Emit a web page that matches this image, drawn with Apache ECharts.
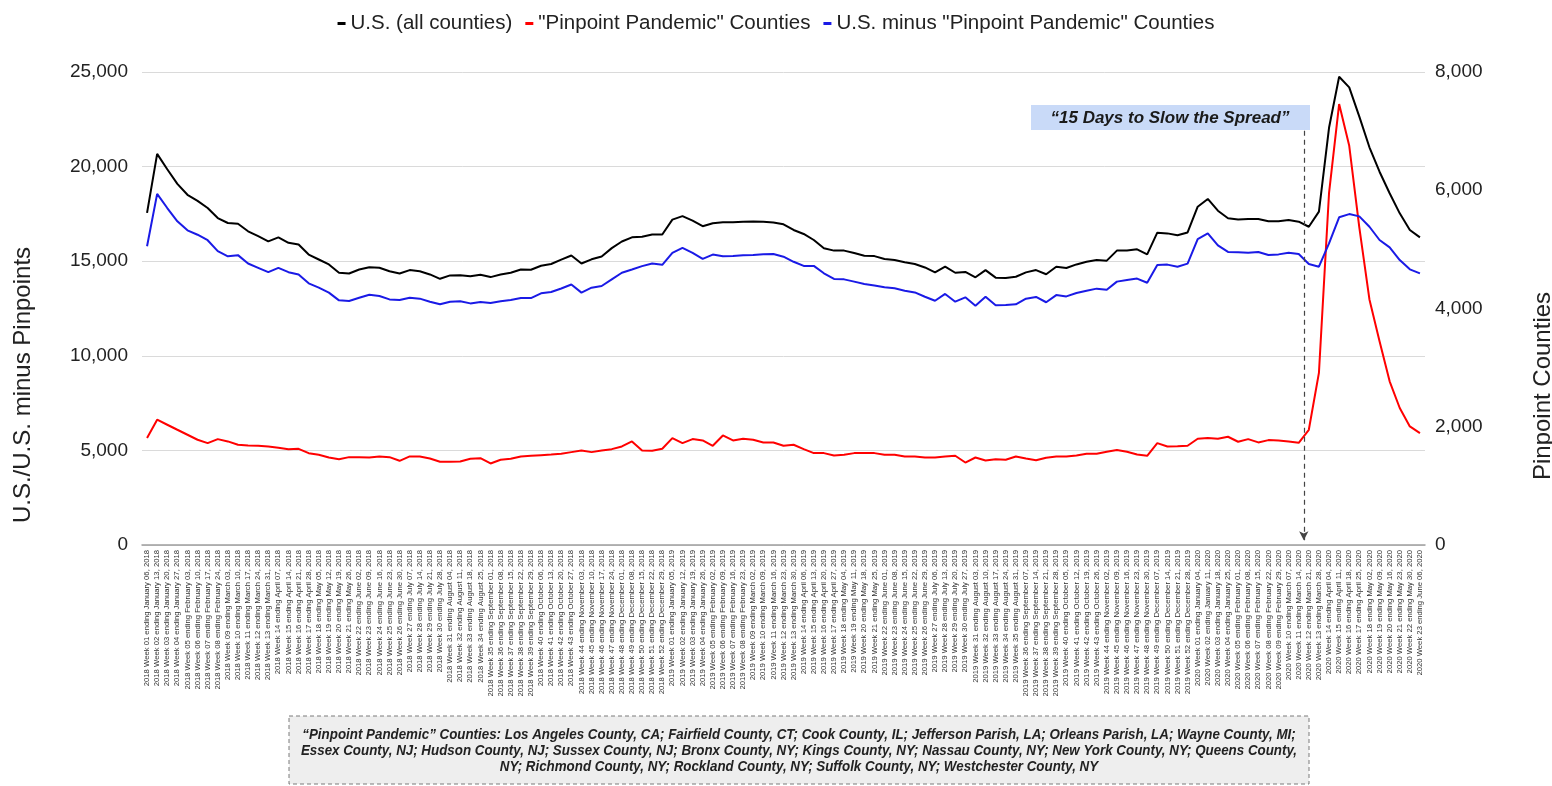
<!DOCTYPE html>
<html>
<head>
<meta charset="utf-8">
<script src="https://cdn.jsdelivr.net/npm/echarts@6/dist/echarts.min.js"></script>
<style>
  html, body { margin: 0; padding: 0; background: #fff; }
  #chart { width: 1552px; height: 786px; }
</style>
</head>
<body>
<div id="chart"></div>
<script>
// week-ending dates (Saturdays) per year
const weekEnd2018 = ['January 06','January 13','January 20','January 27','February 03','February 10','February 17','February 24',
  'March 03','March 10','March 17','March 24','March 31','April 07','April 14','April 21','April 28','May 05','May 12','May 19','May 26',
  'June 02','June 09','June 16','June 23','June 30','July 07','July 14','July 21','July 28','August 04','August 11','August 18','August 25',
  'September 01','September 08','September 15','September 22','September 29','October 06','October 13','October 20','October 27',
  'November 03','November 10','November 17','November 24','December 01','December 08','December 15','December 22','December 29'];
const weekEnd2019 = ['January 05','January 12','January 19','January 26','February 02','February 09','February 16','February 23',
  'March 02','March 09','March 16','March 23','March 30','April 06','April 13','April 20','April 27','May 04','May 11','May 18','May 25',
  'June 01','June 08','June 15','June 22','June 29','July 06','July 13','July 20','July 27','August 03','August 10','August 17','August 24','August 31',
  'September 07','September 14','September 21','September 28','October 05','October 12','October 19','October 26',
  'November 02','November 09','November 16','November 23','November 30','December 07','December 14','December 21','December 28'];
const weekEnd2020 = ['January 04','January 11','January 18','January 25','February 01','February 08','February 15','February 22','February 29',
  'March 07','March 14','March 21','March 28','April 04','April 11','April 18','April 25','May 02','May 09','May 16','May 23','May 30','June 06'];

function weekLabels(year, ends) {
  return ends.map((d, i) => year + ' Week ' + String(i + 1).padStart(2, '0') + ' ending ' + d + ', ' + year);
}
const categories = [].concat(weekLabels(2018, weekEnd2018), weekLabels(2019, weekEnd2019), weekLabels(2020, weekEnd2020));

// U.S. (all counties) - left axis
const usAll = [17550,20670,19860,19090,18510,18190,17810,17280,17020,16980,16580,16320,16050,16260,15970,15880,15350,15090,14830,14390,
  14350,14560,14680,14650,14470,14350,14530,14470,14300,14070,14250,14260,14210,14280,14160,14300,14390,14560,14550,14760,
  14850,15080,15300,14880,15100,15250,15690,16040,16260,16290,16410,16410,17200,17380,17140,16850,17010,17060,17060,17090,
  17100,17090,17050,16950,16650,16440,16120,15680,15560,15560,15430,15290,15270,15120,15060,14940,14850,14670,14410,14710,
  14390,14430,14150,14530,14130,14110,14180,14410,14530,14310,14710,14640,14830,14970,15060,15030,15560,15570,15630,15360,
  16510,16470,16370,16520,17880,18290,17670,17270,17210,17230,17230,17110,17110,17180,17090,16820,17620,22050,24750,24190,
  22640,21020,19730,18590,17530,16650,16260];

// "Pinpoint Pandemic" Counties - right axis
const pinpoint = [1808,2119,2034,1949,1865,1780,1723,1791,1752,1695,1684,1678,1667,1644,1621,1627,1553,1526,1481,1452,
  1486,1486,1481,1498,1486,1424,1498,1498,1464,1407,1407,1413,1458,1469,1379,1441,1458,1498,1509,1520,
  1531,1543,1571,1599,1571,1599,1621,1667,1752,1599,1593,1627,1808,1723,1791,1768,1678,1853,1768,1797,
  1780,1735,1734,1678,1695,1622,1554,1554,1514,1526,1554,1554,1554,1526,1526,1497,1497,1480,1480,1497,
  1509,1395,1480,1429,1452,1441,1497,1463,1435,1475,1497,1497,1514,1542,1542,1576,1605,1576,1531,1509,
  1723,1667,1672,1678,1797,1808,1797,1831,1746,1791,1735,1774,1768,1752,1729,1949,2910,5950,7458,6752,
  5367,4153,3447,2768,2317,2006,1893];

// U.S. minus "Pinpoint Pandemic" Counties - left axis
const usMinus = [15790,18560,17810,17110,16630,16400,16110,15530,15260,15320,14880,14650,14420,14650,14420,14300,13830,13600,13340,12930,
  12900,13070,13230,13160,12980,12950,13070,13020,12860,12720,12860,12880,12770,12840,12790,12880,12950,13050,13050,13300,
  13370,13560,13770,13340,13600,13690,14040,14390,14560,14740,14880,14810,15440,15700,15440,15120,15350,15260,15280,15320,
  15330,15370,15380,15240,14970,14750,14750,14360,14060,14040,13920,13790,13720,13620,13570,13440,13350,13120,12910,13270,
  12860,13090,12650,13120,12670,12680,12720,13020,13110,12830,13210,13140,13320,13440,13550,13490,13920,14010,14080,13860,
  14800,14820,14710,14870,16170,16470,15840,15490,15470,15450,15490,15330,15360,15450,15380,14850,14710,15940,17320,17490,
  17370,16820,16120,15730,15060,14570,14360];

const leftTicks = { min: 0, max: 25000, step: 5000 };
const rightTicks = { min: 0, max: 8000, step: 2000 };
const annotationWeek = 114.5; // between week ending Mar 14 and Mar 21, 2020

const FONT = '"Liberation Sans", Arial, Helvetica, sans-serif';
const chart = echarts.init(document.getElementById('chart'));

const option = {
  animation: false,
  backgroundColor: '#ffffff',
  textStyle: { fontFamily: FONT },
  legend: {
    data: ['U.S. (all counties)', '"Pinpoint Pandemic" Counties', 'U.S. minus "Pinpoint Pandemic" Counties'],
    top: 8,
    left: 'center',
    icon: 'rect',
    itemWidth: 8,
    itemHeight: 3,
    itemGap: 13,
    textStyle: { fontSize: 20.5, color: '#222', fontFamily: FONT }
  },
  grid: { left: 142, right: 127, top: 72, bottom: 241 },
  xAxis: [
    {
      type: 'category',
      data: categories,
      boundaryGap: true,
      axisLine: { lineStyle: { color: '#9e9e9e', width: 1.5 } },
      axisTick: { show: false },
      axisLabel: { interval: 0, rotate: 90, fontSize: 7.7, color: '#333', margin: 5, fontFamily: FONT }
    },
    { type: 'value', min: -0.5, max: categories.length - 0.5, show: false }
  ],
  yAxis: [
    {
      type: 'value',
      min: leftTicks.min, max: leftTicks.max, interval: leftTicks.step,
      axisLine: { show: false },
      axisTick: { show: false },
      splitLine: { lineStyle: { color: '#dadada', width: 1 } },
      axisLabel: { fontSize: 19, color: '#222', margin: 14, formatter: v => v.toLocaleString('en-US') }
    },
    {
      type: 'value',
      position: 'right',
      min: rightTicks.min, max: rightTicks.max, interval: rightTicks.step,
      axisLine: { show: false },
      axisTick: { show: false },
      splitLine: { show: false },
      axisLabel: { fontSize: 19, color: '#222', margin: 10, formatter: v => v.toLocaleString('en-US') }
    }
  ],
  series: [
    {
      name: 'U.S. (all counties)', type: 'line', data: usAll, yAxisIndex: 0,
      showSymbol: false, itemStyle: { color: '#000000' }, lineStyle: { color: '#000000', width: 2 }
    },
    {
      name: '"Pinpoint Pandemic" Counties', type: 'line', data: pinpoint, yAxisIndex: 1,
      showSymbol: false, itemStyle: { color: '#ff0000' }, lineStyle: { color: '#ff0000', width: 2 }
    },
    {
      name: 'U.S. minus "Pinpoint Pandemic" Counties', type: 'line', data: usMinus, yAxisIndex: 0,
      showSymbol: false, itemStyle: { color: '#1a1ae6' }, lineStyle: { color: '#1a1ae6', width: 2 }
    },
    {
      // dashed marker for "15 Days to Slow the Spread"
      name: 'marker', type: 'line', xAxisIndex: 1, yAxisIndex: 0, data: [], silent: true,
      markLine: {
        silent: true,
        symbol: ['none', 'arrow'],
        symbolSize: [7, 9],
        label: { show: false },
        lineStyle: { type: [5, 4], color: '#444', width: 1.2 },
        data: [[{ coord: [annotationWeek, 21900] }, { coord: [annotationWeek, 250] }]]
      }
    }
  ],
  graphic: [
    {
      type: 'text', x: 23, y: 385, rotation: Math.PI / 2,
      style: { text: 'U.S./U.S. minus Pinpoints', font: '24px ' + FONT, fill: '#222', align: 'center', verticalAlign: 'middle' }
    },
    {
      type: 'text', x: 1543, y: 386, rotation: Math.PI / 2,
      style: { text: 'Pinpoint Counties', font: '24px ' + FONT, fill: '#222', align: 'center', verticalAlign: 'middle' }
    },
    {
      type: 'rect', shape: { x: 1031, y: 105, width: 279, height: 25 },
      style: { fill: '#c9daf8' }
    },
    {
      type: 'text', x: 1170, y: 118,
      style: { text: '\u201c15 Days to Slow the Spread\u201d', font: 'italic bold 17px ' + FONT, fill: '#1a1a1a', align: 'center', verticalAlign: 'middle' }
    },
    {
      type: 'rect', shape: { x: 289, y: 716, width: 1020, height: 68 },
      style: { fill: '#eeeeee', stroke: '#7a7a7a', lineWidth: 1, lineDash: [4, 3] }
    },
    {
      // narrow bold italic look: squeeze the regular face horizontally
      type: 'text', x: 799, y: 751, scaleX: 0.89,
      style: {
        text: '\u201cPinpoint Pandemic\u201d Counties: Los Angeles County, CA; Fairfield County, CT; Cook County, IL; Jefferson Parish, LA; Orleans Parish, LA; Wayne County, MI;\n' +
              'Essex County, NJ; Hudson County, NJ; Sussex County, NJ; Bronx County, NY; Kings County, NY; Nassau County, NY; New York County, NY; Queens County,\n' +
              'NY; Richmond County, NY; Rockland County, NY; Suffolk County, NY; Westchester County, NY',
        font: 'italic bold 15px ' + FONT,
        lineHeight: 16, fill: '#222', align: 'center', verticalAlign: 'middle'
      }
    }
  ]
};

chart.setOption(option);
</script>
</body>
</html>
